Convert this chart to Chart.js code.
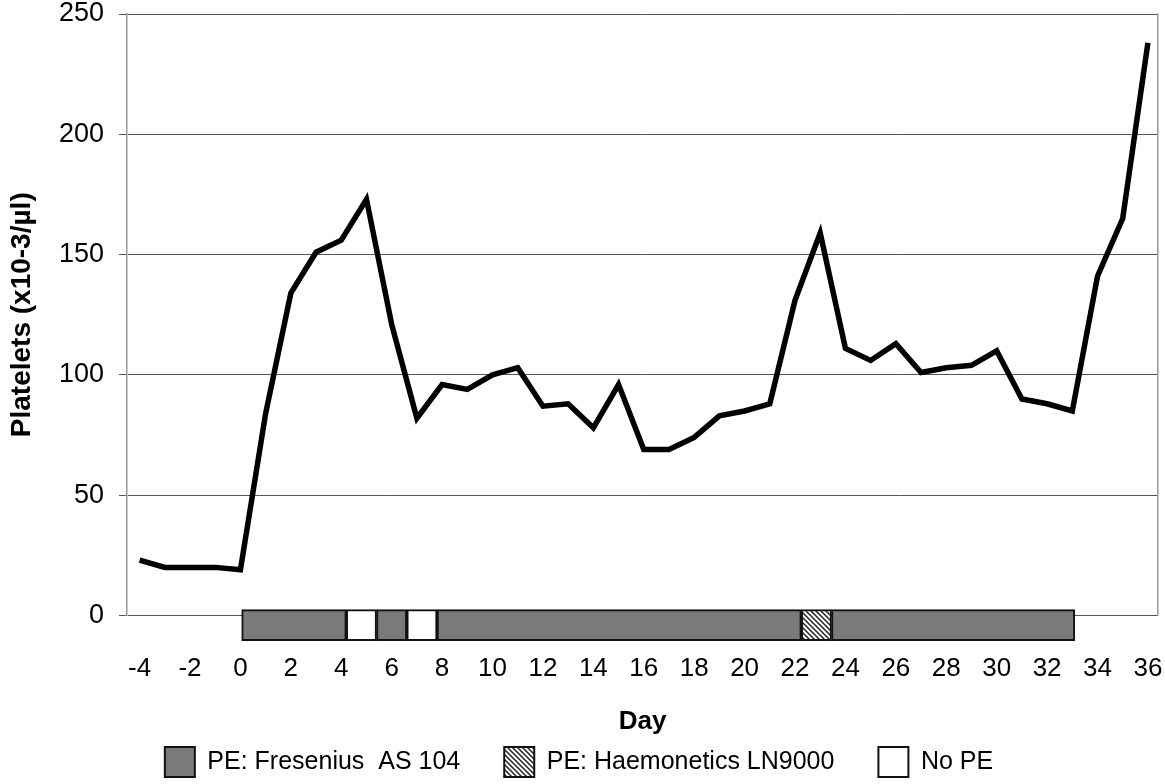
<!DOCTYPE html>
<html>
<head>
<meta charset="utf-8">
<script src="https://cdn.jsdelivr.net/npm/chart.js@4/dist/chart.umd.min.js"></script>
<style>
html,body{margin:0;padding:0;background:#fff;}
#wrap{width:1165px;height:784px;position:relative;}
</style>
</head>
<body>
<div id="wrap"><canvas id="c" width="1165" height="784"></canvas></div>
<script>
// ---- data ----
const days = [-4,-3,-2,-1,0,1,2,3,4,5,6,7,8,9,10,11,12,13,14,15,16,17,18,19,20,21,22,23,24,25,26,27,28,29,30,31,32,33,34,35,36];
const platelets = [23,20,20,20,19,84,134,151,156,173,121,82,96,94,100,103,87,88,78,96,69,69,74,83,85,88,131,159,111,106,113,101,103,104,110,90,88,85,141,165,238];
const xTickLabels = [-4,-2,0,2,4,6,8,10,12,14,16,18,20,22,24,26,28,30,32,34,36];
const yTickLabels = [0,50,100,150,200,250];
// treatment periods (start day, end day)
const fresenius = [[0.05,4.2],[5.4,6.6],[7.8,22.25],[23.45,33.1]];
const haemonetics = [[22.25,23.45]];
const noPE = [[4.2,5.4],[6.6,7.8]];
const legendNames = ['PE: Fresenius  AS 104','PE: Haemonetics LN9000','No PE'];

// ---- styling helpers ----
const FAM = "'Liberation Sans', Arial, Helvetica, sans-serif";
const TRACK_Y = -4;
function makeHatch(){
  const s = 5;
  const p = document.createElement('canvas');
  p.width = s; p.height = s;
  const g = p.getContext('2d');
  g.fillStyle = '#fff'; g.fillRect(0,0,s,s);
  g.strokeStyle = '#222'; g.lineWidth = 1.5;
  g.beginPath();
  g.moveTo(-1,-1); g.lineTo(s+1,s+1);
  g.moveTo(-s-1,-1); g.lineTo(1,s+1);
  g.moveTo(s-1,-1); g.lineTo(2*s+1,s+1);
  g.stroke();
  return g.createPattern(p,'repeat');
}
const hatch = makeHatch();

function barSet(label, ranges, bg){
  return {
    type:'bar', label, indexAxis:'y',
    data: ranges.map(r => ({x:r, y:TRACK_Y})),
    backgroundColor: bg, borderColor:'#111', borderWidth:2, borderSkipped:false,
    barThickness:31, grouped:false, clip:false, order:2,
    xAxisID:'x', yAxisID:'y'
  };
}

new Chart(document.getElementById('c'), {
  type:'line',
  data:{
    datasets:[
      {
        type:'line', label:'Platelets',
        data: days.map((d,i)=>({x:d, y:platelets[i]})),
        borderColor:'#000', borderWidth:5.5, pointRadius:0, tension:0, fill:false,
        borderJoinStyle:'miter', order:1, xAxisID:'x', yAxisID:'y'
      },
      barSet(legendNames[0], fresenius, '#7a7a7a'),
      barSet(legendNames[1], haemonetics, hatch),
      barSet(legendNames[2], noPE, '#ffffff')
    ]
  },
  options:{
    responsive:false, animation:false, devicePixelRatio:1,
    layout:{padding:{left:0, right:7, top:14, bottom:-3}},
    plugins:{
      tooltip:{enabled:false},
      legend:{
        position:'bottom',
        labels:{
          filter:(item)=>item.datasetIndex>0,
          boxWidth:30, boxHeight:30, padding:44,
          color:'#000', font:{size:25, family:FAM}
        }
      }
    },
    scales:{
      x:{
        type:'linear', min:-4.5, max:36.4, offset:false,
        afterBuildTicks:(s)=>{ s.ticks = xTickLabels.map(v=>({value:v})); },
        grid:{display:false, offset:false}, border:{display:false},
        ticks:{font:{size:26, family:FAM}, color:'#000', padding:29.5, autoSkip:false, maxRotation:0},
        title:{display:true, text:'Day', color:'#000', font:{size:26, weight:'bold', family:FAM}, padding:{top:0,bottom:-34.6}},
        afterFit:(s)=>{ s.height = 87.5; s.paddingLeft = 0; s.paddingRight = 0; }
      },
      y:{
        type:'linear', min:0, max:250, offset:false, beginAtZero:true,
        afterBuildTicks:(s)=>{ s.ticks = yTickLabels.map(v=>({value:v})); },
        grid:{color:'#555', lineWidth:1, tickLength:8, drawTicks:true, offset:false},
        border:{display:true, color:'#999', width:1.5},
        ticks:{font:{size:27, family:FAM}, color:'#000', padding:15},
        title:{display:true, text:'Platelets (x10-3/\u00B5l)', color:'#000', font:{size:28, weight:'bold', family:FAM}, padding:{top:5,bottom:0}},
        afterFit:(s)=>{ s.width = 127; s.paddingTop = 0; s.paddingBottom = 0; }
      },
      y2:{
        type:'linear', position:'right', min:0, max:250, display:true, offset:false,
        grid:{display:false, drawTicks:false},
        ticks:{display:false},
        border:{display:true, color:'#999', width:1.5},
        afterFit:(s)=>{ s.width = 0; s.paddingTop = 0; s.paddingBottom = 0; }
      }
    }
  }
});
</script>
</body>
</html>
